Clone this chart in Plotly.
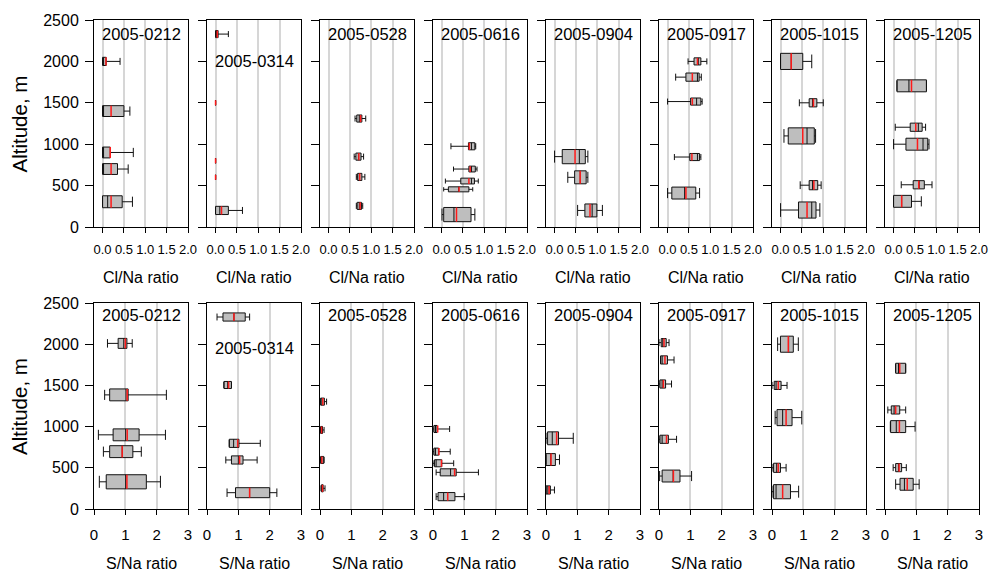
import plotly.graph_objects as go

W, H = 990, 571
FONT = "Liberation Sans, Arial, sans-serif"

DATES = ["2005-0212", "2005-0314", "2005-0528", "2005-0616",
         "2005-0904", "2005-0917", "2005-1015", "2005-1205"]

# Per sampling level:
# [altitude m, lower whisker, Q1, median, Q3, upper whisker, mean, n samples]
CL_0212 = [[2000, 0.0, 0.0, 0.02, 0.085, 0.41, 0.08, 8],
           [1400, 0.0, 0.0, 0.01, 0.50, 0.64, 0.20, 14],
           [900, 0.0, 0.0, 0.02, 0.18, 0.72, 0.18, 14],
           [700, 0.0, 0.0, 0.02, 0.35, 0.60, 0.20, 14],
           [305, 0.0, 0.0, 0.12, 0.46, 0.70, 0.20, 17]]
CL_0314 = [[2330, 0.0, 0.0, 0.02, 0.06, 0.30, 0.04, 6],
           [1500, 0.0, 0.0, 0.0, 0.0, 0.0, 0.0, 3],
           [800, 0.0, 0.0, 0.0, 0.0, 0.0, 0.0, 3],
           [600, 0.0, 0.0, 0.0, 0.0, 0.0, 0.0, 3],
           [200, 0.0, 0.0, 0.10, 0.30, 0.63, 0.14, 8]]
CL_0528 = [[1310, 0.62, 0.66, 0.72, 0.78, 0.87, 0.75, 6],
           [850, 0.60, 0.64, 0.70, 0.76, 0.82, 0.71, 6],
           [605, 0.65, 0.68, 0.72, 0.78, 0.85, 0.73, 6],
           [255, 0.65, 0.67, 0.72, 0.77, 0.80, 0.74, 6]]
CL_0616 = [[975, 0.22, 0.63, 0.70, 0.78, 0.80, 0.65, 6],
           [700, 0.28, 0.64, 0.70, 0.79, 0.83, 0.67, 4],
           [555, 0.09, 0.45, 0.70, 0.77, 0.86, 0.64, 4],
           [455, 0.05, 0.16, 0.40, 0.64, 0.73, 0.41, 3],
           [150, 0.01, 0.05, 0.29, 0.69, 0.78, 0.35, 24]]
CL_0904 = [[850, 0.0, 0.18, 0.58, 0.72, 0.78, 0.48, 24],
           [600, 0.31, 0.47, 0.60, 0.74, 0.78, 0.60, 20],
           [200, 0.54, 0.71, 0.88, 0.99, 1.12, 0.83, 20]]
CL_0917 = [[2000, 0.48, 0.62, 0.72, 0.78, 0.92, 0.70, 6],
           [1810, 0.19, 0.43, 0.70, 0.74, 0.79, 0.58, 8],
           [1515, 0.0, 0.54, 0.68, 0.78, 0.81, 0.58, 6],
           [845, 0.16, 0.52, 0.70, 0.75, 0.78, 0.57, 6],
           [410, 0.0, 0.10, 0.40, 0.66, 0.75, 0.43, 17]]
CL_1015 = [[2000, 0.0, 0.0, 0.25, 0.52, 0.73, 0.25, 31],
           [1500, 0.44, 0.67, 0.75, 0.85, 1.00, 0.77, 8],
           [1100, 0.08, 0.18, 0.62, 0.79, 0.82, 0.52, 31],
           [505, 0.46, 0.67, 0.75, 0.87, 0.95, 0.78, 10],
           [205, 0.0, 0.42, 0.73, 0.83, 0.92, 0.62, 31]]
CL_1205 = [[1705, 0.08, 0.08, 0.36, 0.77, 0.77, 0.42, 17],
           [1205, 0.04, 0.39, 0.58, 0.67, 0.75, 0.52, 8],
           [1000, 0.0, 0.29, 0.69, 0.80, 0.83, 0.56, 17],
           [510, 0.18, 0.46, 0.60, 0.72, 0.90, 0.59, 8],
           [310, 0.0, 0.0, 0.19, 0.42, 0.65, 0.19, 17]]

S_0212 = [[2010, 0.43, 0.77, 0.95, 1.05, 1.22, 1.00, 12],
          [1385, 0.34, 0.50, 1.02, 1.09, 2.31, 1.06, 17],
          [900, 0.14, 0.61, 1.01, 1.44, 2.28, 1.06, 17],
          [696, 0.30, 0.50, 0.90, 1.24, 1.51, 0.90, 17],
          [330, 0.17, 0.39, 1.01, 1.67, 2.12, 1.05, 24]]
S_0314 = [[2330, 0.32, 0.51, 0.86, 1.22, 1.36, 0.86, 8],
          [1505, 0.54, 0.54, 0.66, 0.78, 0.78, 0.69, 6],
          [797, 0.71, 0.71, 0.85, 1.02, 1.70, 0.98, 8],
          [595, 0.60, 0.78, 1.00, 1.15, 1.60, 1.04, 8],
          [198, 0.64, 0.91, 1.36, 2.00, 2.23, 1.36, 12]]
S_0528 = [[1303, 0.0, 0.02, 0.06, 0.14, 0.21, 0.09, 6],
          [959, 0.02, 0.02, 0.04, 0.08, 0.13, 0.05, 6],
          [595, 0.0, 0.02, 0.05, 0.12, 0.13, 0.06, 6],
          [251, 0.03, 0.05, 0.07, 0.10, 0.16, 0.08, 6]]
S_0616 = [[971, 0.0, 0.03, 0.08, 0.13, 0.53, 0.15, 6],
          [696, 0.0, 0.03, 0.08, 0.18, 0.55, 0.19, 6],
          [555, 0.0, 0.05, 0.10, 0.28, 0.66, 0.27, 6],
          [445, 0.10, 0.23, 0.56, 0.74, 1.45, 0.69, 6],
          [150, 0.10, 0.16, 0.34, 0.70, 1.00, 0.47, 8]]
S_0904 = [[858, 0.0, 0.05, 0.20, 0.40, 0.87, 0.34, 20],
          [600, 0.0, 0.0, 0.15, 0.30, 0.43, 0.16, 17],
          [231, 0.0, 0.0, 0.06, 0.14, 0.27, 0.10, 8]]
S_0917 = [[2019, 0.0, 0.07, 0.12, 0.23, 0.32, 0.16, 8],
          [1809, 0.05, 0.05, 0.10, 0.27, 0.48, 0.19, 8],
          [1517, 0.0, 0.03, 0.10, 0.21, 0.40, 0.14, 8],
          [846, 0.0, 0.03, 0.10, 0.30, 0.56, 0.24, 8],
          [400, 0.02, 0.10, 0.45, 0.67, 1.04, 0.46, 17]]
S_1015 = [[2000, 0.18, 0.27, 0.53, 0.68, 0.84, 0.52, 31],
          [1500, 0.0, 0.07, 0.13, 0.29, 0.48, 0.20, 8],
          [1109, 0.10, 0.16, 0.34, 0.64, 0.95, 0.45, 31],
          [500, 0.0, 0.05, 0.15, 0.27, 0.45, 0.20, 10],
          [210, 0.0, 0.05, 0.13, 0.59, 0.85, 0.34, 24]]
S_1205 = [[1708, 0.34, 0.34, 0.43, 0.66, 0.66, 0.47, 12],
          [1202, 0.09, 0.20, 0.29, 0.47, 0.66, 0.34, 8],
          [1000, 0.17, 0.18, 0.36, 0.66, 0.96, 0.46, 17],
          [502, 0.26, 0.34, 0.43, 0.53, 0.68, 0.45, 8],
          [300, 0.34, 0.48, 0.62, 0.90, 1.09, 0.71, 17]]

CL_ALL = [CL_0212, CL_0314, CL_0528, CL_0616, CL_0904, CL_0917, CL_1015, CL_1205]
S_ALL = [S_0212, S_0314, S_0528, S_0616, S_0904, S_0917, S_1015, S_1205]

CL_TICKS = [0, 0.5, 1.0, 1.5, 2.0]
S_TICKS = [0, 1, 2, 3]
ALT_TICKS = [0, 500, 1000, 1500, 2000, 2500]

# panel geometry in pixels
COL_LEFT = [94 + 113 * i for i in range(8)]
COL_W = 94
ROWS = [(20, 227), (303, 509)]
BOX_K = 35.0  # box thickness (m) per sqrt(n), variable-width boxes

rows_cfg = [
    dict(stats=CL_ALL, xrange=[-0.2, 2.0], ticks=CL_TICKS,
         ticktext=["%.1f" % t for t in CL_TICKS], tsize=13, standoff=5,
         xtitle="Cl/Na ratio", title_off=50),
    dict(stats=S_ALL, xrange=[0, 3], ticks=S_TICKS,
         ticktext=[str(t) for t in S_TICKS], tsize=15, standoff=7,
         xtitle="S/Na ratio", title_off=54),
]

fig = go.Figure()
layout = {}
annotations = []

for r, cfg in enumerate(rows_cfg):
    top, bot = ROWS[r]
    for c in range(8):
        idx = r * 8 + c + 1
        sfx = "" if idx == 1 else str(idx)
        xa, ya = "x" + sfx, "y" + sfx
        mx, my = [], []
        for s in cfg["stats"][c]:
            alt, lo, q1, med, q3, hi, mean, n = s
            w = BOX_K * n ** 0.5
            fig.add_trace(go.Box(
                orientation="h", y=[alt], q1=[q1], median=[med], q3=[q3],
                lowerfence=[lo], upperfence=[hi], width=w, whiskerwidth=0.85,
                fillcolor="#bebebe", line=dict(color="#111111", width=1),
                boxpoints=False, xaxis=xa, yaxis=ya, showlegend=False,
                hoverinfo="skip"))
            mx += [mean, mean, None]
            my += [alt - w / 2, alt + w / 2, None]
        fig.add_trace(go.Scatter(
            x=mx, y=my, mode="lines", line=dict(color="#ff1a1a", width=1.5),
            xaxis=xa, yaxis=ya, showlegend=False, hoverinfo="skip"))

        left = COL_LEFT[c]
        layout["xaxis" + sfx] = dict(
            domain=[left / W, (left + COL_W) / W], anchor=ya, automargin=False,
            range=cfg["xrange"], tickvals=cfg["ticks"], ticktext=cfg["ticktext"],
            tickfont=dict(size=cfg["tsize"], color="black", family=FONT),
            ticklabelstandoff=cfg["standoff"],
            showgrid=True, gridcolor="#d6d6d6", gridwidth=1.5, zeroline=False,
            showline=True, linecolor="black", linewidth=1, mirror=True,
            ticks="outside", ticklen=5, tickcolor="black", fixedrange=True)
        layout["yaxis" + sfx] = dict(
            domain=[1 - bot / H, 1 - top / H], anchor=xa, automargin=False,
            range=[0, 2500], tickvals=ALT_TICKS, showticklabels=(c == 0),
            tickfont=dict(size=16, color="black", family=FONT),
            ticklabelstandoff=3,
            showgrid=False, zeroline=False, showline=True, linecolor="black",
            linewidth=1, mirror=True, ticks="outside", ticklen=8,
            tickcolor="black", fixedrange=True)

        # flight date label inside the panel
        if DATES[c] == "2005-0314":
            ty = 0.80 if r == 0 else 0.782
        else:
            ty = 0.932 if r == 0 else 0.942
        annotations.append(dict(
            text=DATES[c], xref=xa + " domain", yref=ya + " domain",
            x=0.5, y=ty, xanchor="center", yanchor="middle", showarrow=False,
            font=dict(size=16.5, color="black", family=FONT)))
        # ratio axis title
        annotations.append(dict(
            text=cfg["xtitle"], xref="paper", yref="paper",
            x=(left + COL_W / 2) / W, y=1 - (bot + cfg["title_off"]) / H,
            xanchor="center", yanchor="middle", showarrow=False,
            font=dict(size=16, color="black", family=FONT)))

    annotations.append(dict(
        text="Altitude, m", xref="paper", yref="paper", x=19 / W,
        y=1 - ((top + bot) / 2 + 1) / H, xanchor="center", yanchor="middle",
        textangle=-90, showarrow=False,
        font=dict(size=20.5, color="black", family=FONT)))

fig.update_layout(
    width=W, height=H, autosize=False,
    margin=dict(l=0, r=0, t=0, b=0, pad=0, autoexpand=False),
    paper_bgcolor="white", plot_bgcolor="white", boxmode="overlay",
    font=dict(family=FONT, color="black"), annotations=annotations, **layout)

fig.write_html("out.html", config={"displayModeBar": False})
